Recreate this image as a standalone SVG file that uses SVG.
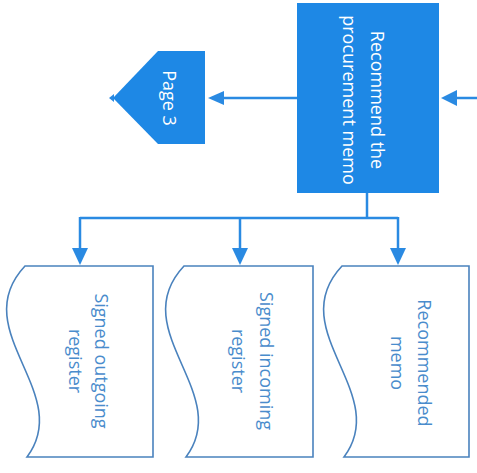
<svg xmlns="http://www.w3.org/2000/svg" width="477" height="473" viewBox="0 0 477 473">
<style>
.proc{fill:#1e88e5;}
.doc{fill:#ffffff;stroke:#4a82bd;stroke-width:1.6;}
.line{fill:none;stroke:#2a8ae2;stroke-width:2.5;}
.head{fill:#2a8ae2;}
.t{font-family:"Open Sans","Noto Sans",sans-serif;font-size:18px;text-anchor:middle;dominant-baseline:central;}
.tw{fill:#ffffff;}
.tb{fill:#4a8ccc;}
</style>
<rect width="477" height="473" fill="#ffffff"/>
<g id="connectors">
<line class="line" x1="477" y1="98" x2="456" y2="98"/>
<polygon class="head" points="441,98 457,90 457,106"/>
<line class="line" x1="298" y1="98" x2="223" y2="98"/>
<polygon class="head" points="208,98 224,91 224,105"/>
<polygon class="head" points="109,98 114,94 114,102"/>
<polyline class="line" points="367,193 367,218"/>
<line class="line" x1="80" y1="218" x2="398" y2="218"/>
<line class="line" x1="80" y1="217" x2="80" y2="250"/>
<line class="line" x1="240" y1="218" x2="240" y2="250"/>
<line class="line" x1="398" y1="217" x2="398" y2="250"/>
<polygon class="head" points="80,265 72,248 88,248"/>
<polygon class="head" points="240,265 232,248 248,248"/>
<polygon class="head" points="398,265 390,248 406,248"/>
</g>
<g id="recommend">
<rect class="proc" x="297" y="3" width="142" height="190"/>
<text class="t tw" transform="translate(378,100) rotate(90)">Recommend the</text>
<text class="t tw" transform="translate(350,100) rotate(90)">procurement memo</text>
</g>
<g id="page3">
<polygon class="proc" points="113,98 158,51 205,51 205,144 158,144"/>
<text class="t tw" transform="translate(170,98) rotate(90)">Page 3</text>
</g>
<g id="doc-outgoing">
<path class="doc" d="M25,266 L153,266 L153,457 L27,457 C75,393 -35,330 25,266 Z"/>
<text class="t tb" transform="translate(102,361) rotate(90)">Signed outgoing</text>
<text class="t tb" transform="translate(76,361) rotate(90)">register</text>
</g>
<g id="doc-incoming">
<path class="doc" d="M184,266 L313,266 L313,457 L186,457 C234,393 124,330 184,266 Z"/>
<text class="t tb" transform="translate(267,361) rotate(90)">Signed incoming</text>
<text class="t tb" transform="translate(239,361) rotate(90)">register</text>
</g>
<g id="doc-memo">
<path class="doc" d="M342,266 L469,266 L469,457 L344,457 C392,393 282,330 342,266 Z"/>
<text class="t tb" transform="translate(425,363) rotate(90)">Recommended</text>
<text class="t tb" transform="translate(398,363) rotate(90)">memo</text>
</g>
</svg>
